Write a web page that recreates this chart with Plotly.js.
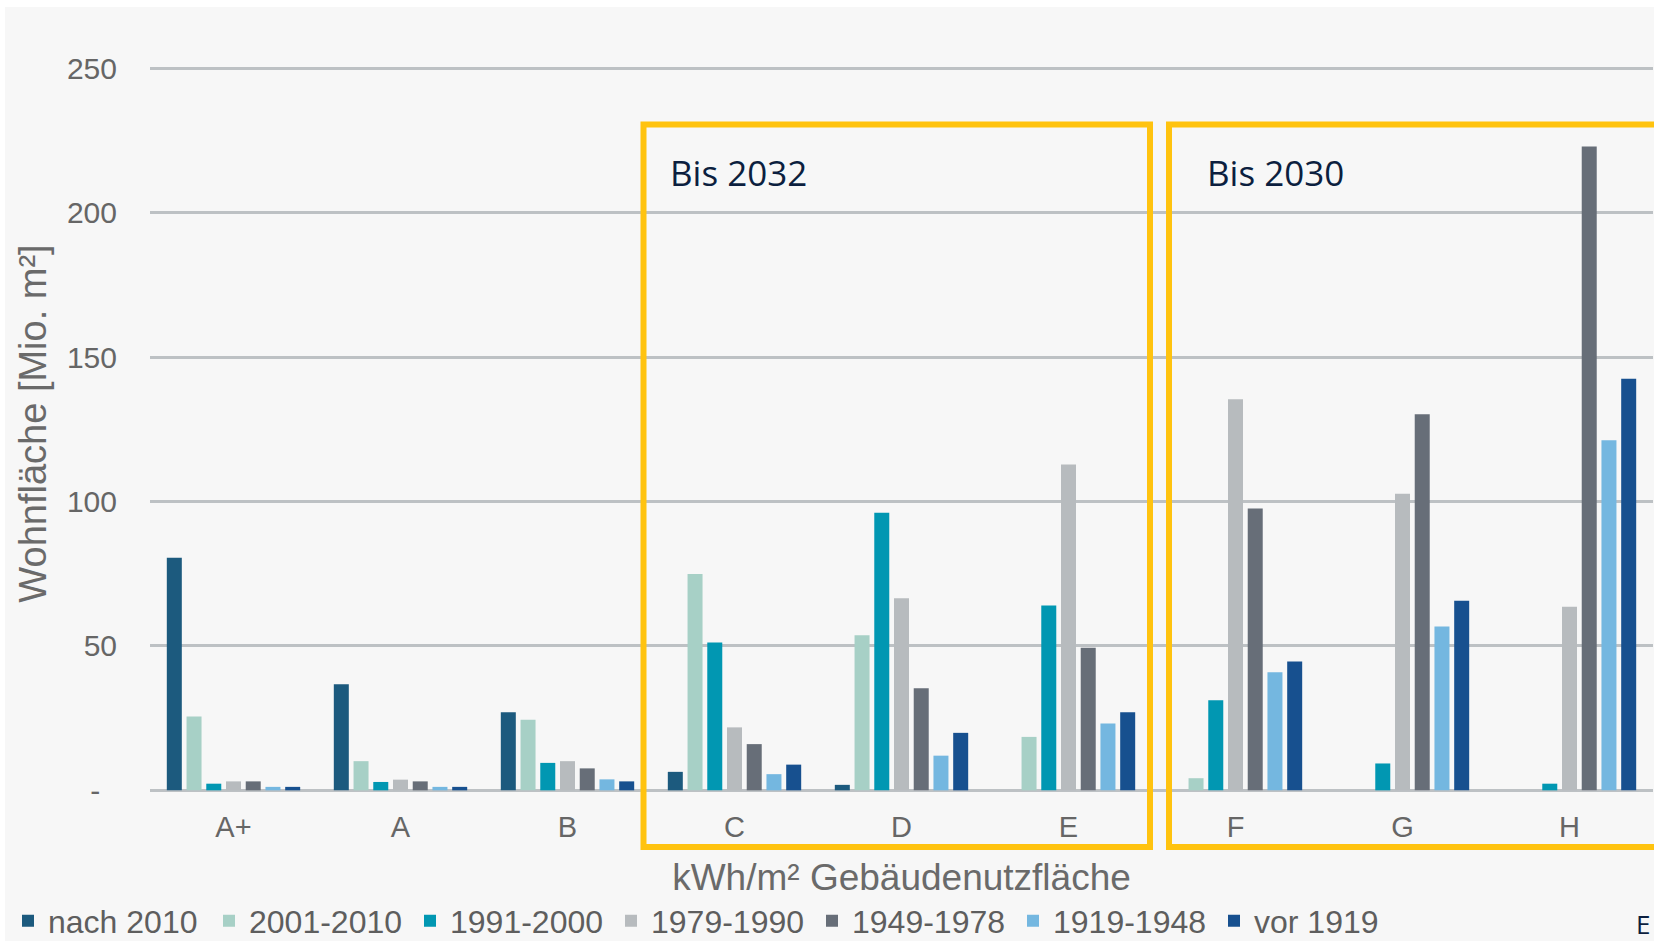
<!DOCTYPE html>
<html>
<head>
<meta charset="utf-8">
<script src="https://cdn.plot.ly/plotly-3.0.1.min.js"></script>
<style>html,body{margin:0;padding:0;background:#fff;}#chart{width:1654px;height:941px;}</style>
</head>
<body>
<div id="chart"></div>
<script>
// ---- data ----
const categories = ['A+', 'A', 'B', 'C', 'D', 'E', 'F', 'G', 'H'];
const seriesNames = ['nach 2010', '2001-2010', '1991-2000', '1979-1990', '1949-1978', '1919-1948', 'vor 1919'];
const nach2010   = [80.5, 36.7, 27.0, 6.4, 1.9, null, null, null, null];
const y2001_2010 = [25.6, 10.1, 24.4, 74.9, 53.7, 18.5, 4.2, null, null];
const y1991_2000 = [2.3, 2.9, 9.5, 51.2, 96.1, 64.0, 31.2, 9.3, 2.3];
const y1979_1990 = [3.1, 3.7, 10.1, 21.8, 66.5, 112.8, 135.4, 102.7, 63.6];
const y1949_1978 = [3.1, 3.1, 7.6, 16.0, 35.3, 49.4, 97.6, 130.2, 222.9];
const y1919_1948 = [1.2, 1.2, 3.8, 5.6, 12.0, 23.1, 40.9, 56.7, 121.2];
const vor1919    = [1.2, 1.2, 3.1, 8.9, 19.9, 27.0, 44.6, 65.6, 142.5];
const yTickVals = [0, 50, 100, 150, 200, 250];
const yTickText = ['-\u00a0\u00a0', '50', '100', '150', '200', '250'];
const boxLabels = ['Bis 2032', 'Bis 2030'];

// ---- styling ----
const colors = ['#1c5a7e', '#a7d0c6', '#0197b2', '#b7bbbe', '#676e78', '#74b7e0', '#17508f'];
const values = [nach2010, y2001_2010, y1991_2000, y1979_1990, y1949_1978, y1919_1948, vor1919];

const W = 1654, H = 941;
const M = {l: 150, r: 1, t: 48, b: 142, autoexpand: false};
const PW = W - M.l - M.r, PH = H - M.t - M.b;
const px = x => (x - M.l) / PW;          // pixel -> paper x
const py = y => (H - M.b - y) / PH;      // pixel -> paper y

const traces = values.map((v, i) => ({
  type: 'bar',
  name: seriesNames[i],
  x: categories,
  y: v,
  marker: {color: colors[i]},
  hoverinfo: 'x+y+name'
}));

const yellow = '#FFC30F';
const layout = {
  width: W, height: H,
  margin: M,
  paper_bgcolor: '#ffffff',
  plot_bgcolor: 'rgba(0,0,0,0)',
  barmode: 'group',
  bargap: 0.173,
  bargroupgap: 0.24,
  font: {family: 'Liberation Sans, Arial, sans-serif', color: '#666666'},
  xaxis: {
    type: 'category',
    range: [-0.5, 8.5],
    showgrid: false, zeroline: false, showline: false,
    ticks: '',
    tickfont: {size: 29, color: '#666666'},
    ticklabelstandoff: 8,
    title: {text: 'kWh/m² Gebäudenutzfläche', font: {size: 37, color: '#6a6a6a'}, standoff: 22},
    automargin: false,
    fixedrange: true
  },
  yaxis: {
    range: [-3, 257],
    autorange: false,
    tickmode: 'array',
    tickvals: yTickVals,
    ticktext: yTickText,
    showgrid: true,
    gridcolor: '#bdc1c4',
    gridwidth: 2.5,
    zeroline: false, showline: false,
    ticks: '',
    tickfont: {size: 30, color: '#666666'},
    ticklabelstandoff: 32,
    title: {text: 'Wohnfläche [Mio. m²]', font: {size: 38, color: '#6a6a6a'}, standoff: 8},
    automargin: false,
    fixedrange: true
  },
  showlegend: true,
  legend: {
    orientation: 'h',
    x: px(8), xanchor: 'left',
    y: py(921), yanchor: 'middle',
    font: {size: 32, color: '#5e5e5e'},
    bgcolor: 'rgba(0,0,0,0)',
    traceorder: 'normal',
    itemclick: false, itemdoubleclick: false,
    entrywidth: 156, entrywidthmode: 'pixels'
  },
  shapes: [
    {type: 'rect', xref: 'paper', yref: 'paper', x0: px(5), x1: px(W + 2), y0: py(H + 2), y1: py(7),
     fillcolor: '#f7f7f7', line: {width: 0}, layer: 'below'},
    {type: 'rect', xref: 'paper', yref: 'paper', x0: px(643.5), x1: px(1150), y0: py(847), y1: py(124.5),
     line: {color: yellow, width: 6}, fillcolor: 'rgba(0,0,0,0)', layer: 'above'},
    {type: 'rect', xref: 'paper', yref: 'paper', x0: px(1169), x1: px(W + 20), y0: py(847), y1: py(124.5),
     line: {color: yellow, width: 6}, fillcolor: 'rgba(0,0,0,0)', layer: 'above'}
  ],
  annotations: [
    {xref: 'paper', yref: 'paper', x: px(668), y: py(172), xanchor: 'left', yanchor: 'middle',
     text: boxLabels[0], showarrow: false, font: {family: 'Open Sans, Noto Sans, sans-serif', size: 35, color: '#0c1f3f'}},
    {xref: 'paper', yref: 'paper', x: px(1205), y: py(172), xanchor: 'left', yanchor: 'middle',
     text: boxLabels[1], showarrow: false, font: {family: 'Open Sans, Noto Sans, sans-serif', size: 35, color: '#0c1f3f'}},
    {xref: 'paper', yref: 'paper', x: px(1652), y: py(924), xanchor: 'right', yanchor: 'middle',
     text: 'E', showarrow: false, font: {family: 'Open Sans, Noto Sans, sans-serif', size: 26, color: '#0c1f3f'}}
  ]
};

Plotly.newPlot('chart', traces, layout, {displayModeBar: false, staticPlot: false, responsive: false});
</script>
</body>
</html>
